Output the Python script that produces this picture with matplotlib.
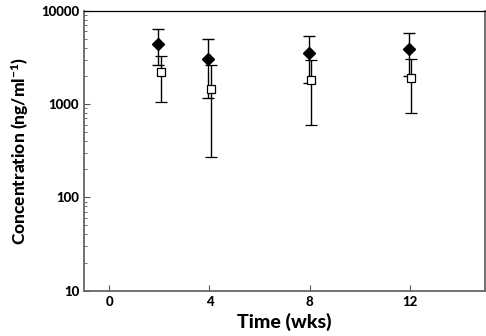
import matplotlib.pyplot as plt
import numpy as np

plt.rcParams['font.family'] = ['Lato', 'DejaVu Sans']
plt.rcParams['font.weight'] = 'black'
plt.rcParams['axes.labelweight'] = 'black'
plt.rcParams['mathtext.fontset'] = 'custom'
plt.rcParams['mathtext.rm'] = 'Lato:black'
plt.rcParams['mathtext.it'] = 'Lato:black'
plt.rcParams['mathtext.bf'] = 'Lato:black'

weeks = np.array([2, 4, 8, 12])
filled_mean = [4450, 3050, 3500, 3850]
filled_sd = [1850, 1900, 1800, 1870]
open_mean = [2180, 1450, 1800, 1910]
open_sd = [1120, 1180, 1200, 1110]

fig = plt.figure(figsize=(4.86, 3.36), dpi=100)
ax = fig.add_axes([0.173, 0.135, 0.825, 0.833])

ax.errorbar(weeks - 0.04, filled_mean, yerr=filled_sd, fmt='D', color='black',
            markersize=6, capsize=4, elinewidth=1, capthick=1)
ax.errorbar(weeks + 0.05, open_mean, yerr=open_sd, fmt='s', color='black',
            markerfacecolor='white', markersize=5.5, markeredgewidth=0.9,
            capsize=4, elinewidth=1, capthick=1)

ax.set_yscale('log')
ax.set_ylim(10, 10000)
ax.set_xlim(-1, 15)
ax.set_xticks([0, 4, 8, 12])
ax.set_yticks([10, 100, 1000, 10000])
ax.set_yticklabels(['10', '100', '1000', '10000'])
ax.tick_params(axis='both', which='both', direction='in', labelsize=9.5)
ax.tick_params(axis='both', which='major', length=4, width=0.8, color='#555555')
ax.tick_params(axis='y', which='minor', length=2.5, width=0.6, color='#555555')
ax.tick_params(axis='x', which='minor', length=0)

for side in ['left', 'bottom', 'right']:
    ax.spines[side].set_color('#666666')
    ax.spines[side].set_linewidth(1.3)
ax.spines['top'].set_color('black')
ax.spines['top'].set_linewidth(0.9)

ax.set_xlabel('Time (wks)', fontsize=14, labelpad=4)
ax.set_ylabel('Concentration (ng/ml$^{-1}$)', fontsize=12.5, labelpad=7)

fig.savefig('out.png', dpi=100)
